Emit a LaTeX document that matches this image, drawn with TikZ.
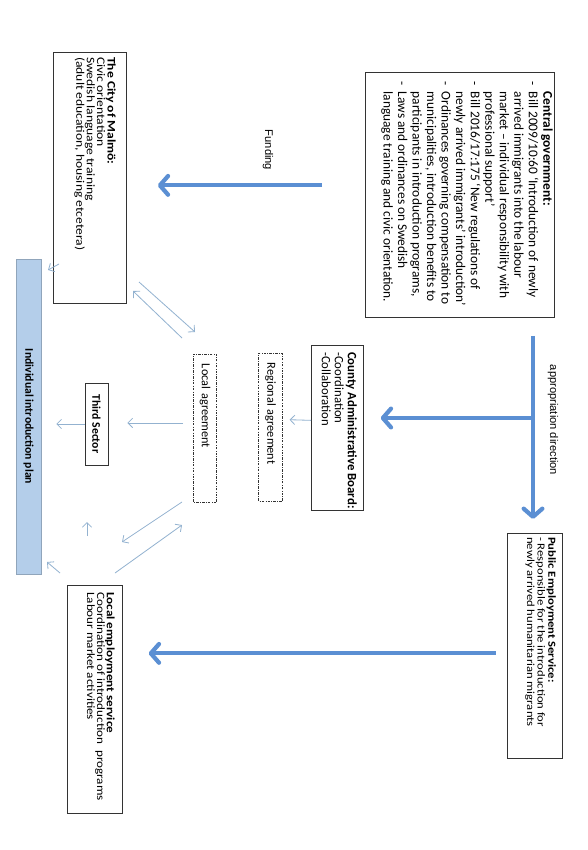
\documentclass[tikz,border=0pt]{standalone}
\usepackage{fontspec}
\setmainfont{Carlito}
\newfontfamily\arrowfont{Liberation Sans}
\usetikzlibrary{arrows.meta, positioning, calc}
\definecolor{flowblue}{HTML}{5B8FD3}
\definecolor{linkblue}{HTML}{93B2D0}
\definecolor{planblue}{HTML}{B4CEEA}
\definecolor{frameline}{HTML}{333333}
\lineskiplimit=-10pt
\newcommand{\listdash}{\makebox[9pt][l]{-}}
\newcommand{\listgap}{\hspace*{9pt}}
\tikzset{
  frame/.style={draw=frameline, line width=0.6pt, fill=white, inner sep=0pt, anchor=north west},
  boxtext/.style={rotate=-90, anchor=north west, inner sep=0pt, align=left},
  smallbox/.style={rotate=-90, draw=frameline, line width=0.6pt, inner ysep=0pt, font=\fontsize{10.5}{12}\selectfont},
  agreement/.style={smallbox, dash pattern=on 2.2pt off 1.1pt on 0.6pt off 1.1pt, text width=3.84cm, inner xsep=0.3cm, align=left, minimum height=0.7cm},
  flow/.style={flowblue, line width=3.6pt, -{Straight Barb[round, length=7pt, width=16pt]}},
  link/.style={linkblue, line width=0.7pt, -{Straight Barb[length=4pt, width=8pt]}},
  flowlabel/.style={rotate=-90, font=\arrowfont\fontsize{9.5}{11}\selectfont}
}
\begin{document}
\begin{tikzpicture}[x=0.03cm, y=-0.03cm]
\useasboundingbox (0,0) rectangle (587,850);

% box frames
\node[frame, minimum width=5.67cm, minimum height=7.35cm] (cg) at (365,72) {};
\node[frame, minimum width=2.19cm, minimum height=7.53cm] (malmo) at (53,52) {};
\node[frame, minimum width=1.65cm, minimum height=6.75cm] (pes) at (507,533) {};
\node[frame, minimum width=1.65cm, minimum height=6.84cm] (les) at (67,585) {};
\node[frame, minimum width=1.56cm, minimum height=4.95cm] (cab) at (311,345) {};

% box texts
\node[boxtext, font=\fontsize{11.4}{12.4}\selectfont] (cgtxt) at (553,81) {%
  \listgap\textbf{Central government:}\\
  \listdash Bill 2009/10:60 ‘Introduction of newly\\
  \listgap arrived immigrants into the labour\\
  \listgap market – individual responsibility with\\
  \listgap professional support’\\
  \listdash Bill 2016/17:175 ‘New regulations of\\
  \listgap newly arrived immigrants’ introduction’\\
  \listdash Ordinances governing compensation to\\
  \listgap municipalities, introduction benefits to\\
  \listgap participants in introduction programs,\\
  \listdash Laws and ordinances on Swedish\\
  \listgap language training and civic orientation.};
\node[boxtext, yscale=0.85, font=\fontsize{11.6}{10.5}\selectfont] (malmotxt) at (116,57) {%
  \textbf{The City of Malmö:}\\
  Civic orientation\\
  Swedish language training\\
  (adult education, housing etcetera)};
\node[boxtext, yscale=0.85, font=\fontsize{10.8}{10.6}\selectfont] (pestxt) at (556,537) {%
  \textbf{Public Employment Service:}\\
  - Responsible for the introduction for\\
  newly arrived humanitarian migrants};
\node[boxtext, yscale=0.85, font=\fontsize{11.2}{10}\selectfont] (lestxt) at (115,592) {%
  \textbf{Local employment service}\\
  Coordination of introduction\ \ programs\\
  Labour market activities};
\node[boxtext, font=\fontsize{10.9}{11.1}\selectfont] (cabtxt) at (357,352) {%
  \textbf{County Administrative Board:}\\
  -Coordination\\
  -Collaboration};

% agreements, third sector and plan
\node[agreement] (reg) at (270.5,427) {Regional agreement};
\node[agreement] (loc) at (205,428) {Local agreement};
\node[smallbox, font=\bfseries\fontsize{10}{12}\selectfont, minimum width=2.46cm, minimum height=0.69cm] (third) at (96.5,424) {Third Sector};
\node[rotate=-90, fill=planblue, draw=planblue!80!black, line width=0.5pt, inner sep=0pt,
  minimum width=9.45cm, minimum height=0.75cm, font=\bfseries\fontsize{10}{12}\selectfont] (iip) at (28.5,416.5) {Individual introduction plan};

% thick flows
\node[flowlabel] (fundlbl) at (268,150) {Funding};
\node[flowlabel] (applbl) at (553,420) {appropriation direction};
\coordinate (fund) at ([yshift=8.1pt]cg.west);
\draw[flow, shorten <=36.7pt, shorten >=26.5pt] (fund) -- (fund -| malmo.east);
\coordinate (split) at (533,418);
\draw[flow, shorten <=15.4pt, shorten >=12pt] (cg.south -| split) -- (pes.north -| split);
\draw[flow, shorten >=14.5pt] (split) -- (split -| cab.east);
\coordinate (emp) at ([yshift=-6.4pt]pes.west);
\draw[flow, shorten <=9.4pt, shorten >=22.2pt] (emp) -- (emp -| les.east);

% thin links
\draw[link, shorten >=6pt] ([yshift=6.4pt]cab.west) -- ([yshift=6.4pt]reg.north);
\coordinate (lt) at ([yshift=4.3pt]loc.south);
\draw[link, shorten <=8.5pt, shorten >=16.2pt] (lt) -- (lt -| third.north);
\draw[link, shorten >=12.8pt] (third.south) -- (third.south -| iip.north);
\coordinate (m2i-a) at (59,264);  \coordinate (m2i-b) at (48,270);
\coordinate (l2i-a) at (60,573);  \coordinate (l2i-b) at (47,562);
\coordinate (up-a) at (87,536);   \coordinate (up-b) at (87,522);
\coordinate (ml-a) at (139,282);  \coordinate (ml-b) at (195,332);
\coordinate (lm-a) at (182,338);  \coordinate (lm-b) at (133,291);
\coordinate (le-a) at (182,502);  \coordinate (le-b) at (122,542);
\coordinate (el-a) at (115,573);  \coordinate (el-b) at (182,525);
\foreach \c in {m2i, l2i, up, ml, lm, le, el}
  \draw[link] (\c-a) -- (\c-b);
\end{tikzpicture}
\end{document}
